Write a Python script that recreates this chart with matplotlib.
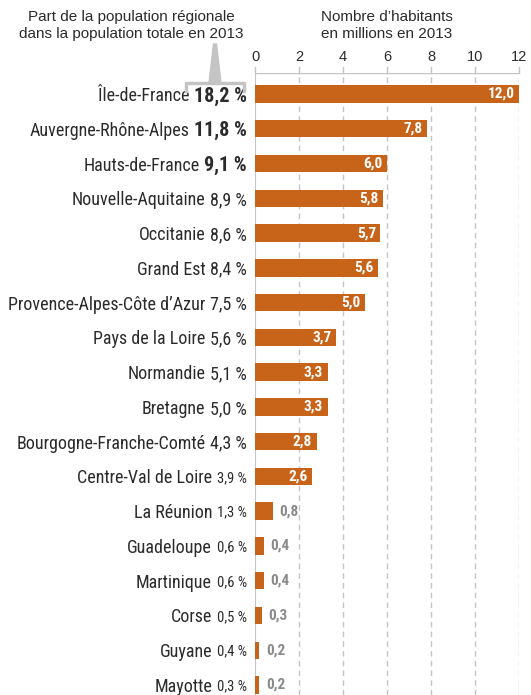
import matplotlib
matplotlib.use("Agg")
from matplotlib import pyplot as plt
from matplotlib.patches import Polygon
from matplotlib.lines import Line2D

regions = ["Île-de-France", "Auvergne-Rhône-Alpes", "Hauts-de-France",
           "Nouvelle-Aquitaine", "Occitanie", "Grand Est",
           "Provence-Alpes-Côte d’Azur", "Pays de la Loire", "Normandie",
           "Bretagne", "Bourgogne-Franche-Comté", "Centre-Val de Loire",
           "La Réunion", "Guadeloupe", "Martinique", "Corse", "Guyane", "Mayotte"]
shares = ["18,2 %", "11,8 %", "9,1 %", "8,9 %", "8,6 %", "8,4 %", "7,5 %",
          "5,6 %", "5,1 %", "5,0 %", "4,3 %", "3,9 %", "1,3 %", "0,6 %",
          "0,6 %", "0,5 %", "0,4 %", "0,3 %"]
habitants = [12.0, 7.8, 6.0, 5.8, 5.7, 5.6, 5.0, 3.7, 3.3, 3.3, 2.8, 2.6,
             0.8, 0.4, 0.4, 0.3, 0.2, 0.2]
ticks = [0, 2, 4, 6, 8, 10, 12]

W, H = 531, 695
ORANGE = "#c86419"
DARK = "#2b2b2b"
GREY = "#c4c4c4"
narrow = ["Roboto Condensed", "Liberation Sans", "DejaVu Sans"]
plain = ["Liberation Sans", "DejaVu Sans"]

fig = plt.figure(figsize=(W / 100, H / 100), dpi=100)
# axes: x 0 at 255px, 12 at 519px; rows from y=94px to 685px
row0, rowN = 94, 685
step = (rowN - row0) / (len(regions) - 1)
top_px = 73
ax = fig.add_axes([255 / W, 0, (519 - 255) / W, 1 - top_px / H])
ax.set_xlim(0, 12)
ax.set_ylim(len(regions) - 1 + (H - rowN) / step, -(row0 - top_px) / step)
for s in ax.spines.values():
    s.set_visible(False)
ax.set_xticks([])
ax.set_yticks([])

for t in ticks[1:]:
    ax.axvline(t, color=GREY, lw=1, ls=(0, (4, 3)), zorder=0)
ax.axvline(0, color=GREY, lw=1.5, zorder=0)
ax.axhline(ax.get_ylim()[1], color=GREY, lw=1, zorder=0)

ypos = list(range(len(regions)))
ax.barh(ypos, habitants, height=0.5, color=ORANGE, zorder=2)

for i, (name, pct, v) in enumerate(zip(regions, shares, habitants)):
    lbl = f"{v:.1f}".replace(".", ",")
    if v >= 1:
        ax.text(v - 0.2, i, lbl, ha="right", va="center", color="white",
                fontsize=11, fontweight="bold", family=narrow, zorder=3)
    else:
        ax.text(v + 0.3, i, lbl, ha="left", va="center", color="#8a8a8a",
                fontsize=11, fontweight="bold", family=narrow, zorder=3)
    if i < 3:
        pkw = dict(fontsize=14.5, fontweight="bold")
    elif i < 11:
        pkw = dict(fontsize=13)
    else:
        pkw = dict(fontsize=10.5)
    pt = ax.text(-0.36, i, pct, ha="right", va="center_baseline", color=DARK,
                 family=narrow, clip_on=False, **pkw)
    ax.annotate(name, xy=(0, i), xycoords=(pt, "data"), xytext=(-3.5, 0),
                textcoords="offset points", ha="right", va="center_baseline",
                color=DARK, fontsize=13, family=narrow, annotation_clip=False)

# tick labels along the top
for t in ticks:
    ax.text(t, -(row0 - 57) / step, str(t), ha="center", va="center",
            color=DARK, fontsize=10.5, family=plain, clip_on=False)
    ax.plot([t, t], [-(row0 - top_px) / step, -(row0 - top_px + 6) / step],
            color=GREY, lw=1, clip_on=False, zorder=0)

def fx(px):
    return px / W

def fy(py):
    return 1 - py / H

fig.text(fx(131), fy(17), "Part de la population régionale", ha="center",
         va="center", fontsize=11, color=DARK, family=plain)
fig.text(fx(131), fy(34), "dans la population totale en 2013", ha="center",
         va="center", fontsize=11, color=DARK, family=plain)
fig.text(fx(387), fy(17), "Nombre d’habitants", ha="center", va="center",
         fontsize=11, color=DARK, family=plain)
fig.text(fx(387), fy(34), "en millions en 2013", ha="center", va="center",
         fontsize=11, color=DARK, family=plain)

# bracket and pointer
fig.add_artist(Line2D([fx(186), fx(186), fx(244), fx(244)],
                      [fy(91), fy(83), fy(83), fy(91)],
                      color=GREY, lw=2.5, transform=fig.transFigure))
fig.add_artist(Polygon([(fx(213.5), fy(44)), (fx(216.5), fy(44)),
                        (fx(221), fy(83)), (fx(209), fy(83))],
                       closed=True, color=GREY, transform=fig.transFigure))

fig.savefig("out.png", dpi=100)
